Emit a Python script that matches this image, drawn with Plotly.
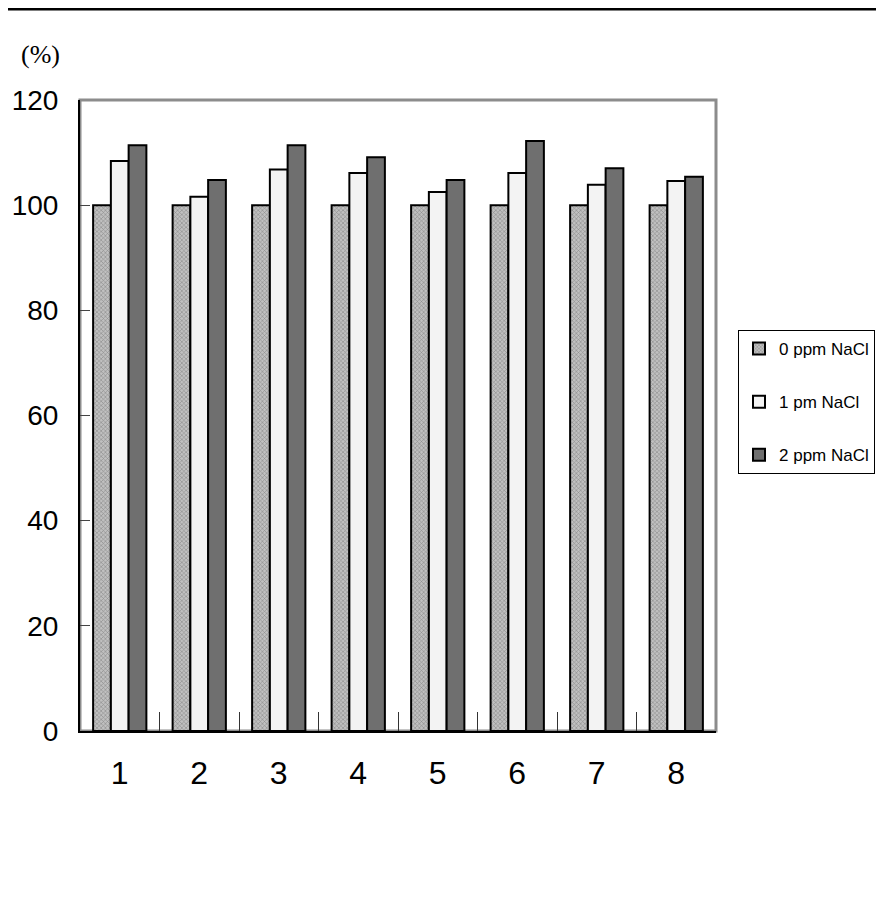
import plotly.graph_objects as go

categories = ["1", "2", "3", "4", "5", "6", "7", "8"]
series_names = ["0 ppm NaCl", "1 pm NaCl", "2 ppm NaCl"]
v0 = [100, 100, 100, 100, 100, 100, 100, 100]
v1 = [108.4, 101.6, 106.8, 106.1, 102.5, 106.1, 103.9, 104.6]
v2 = [111.4, 104.8, 111.4, 109.1, 104.8, 112.2, 107.0, 105.4]
y_ticks = [0, 20, 40, 60, 80, 100, 120]

SANS = "Liberation Sans, Arial, sans-serif"

# page has an 8px body margin; plot area in page pixels: x 80..716, y 100..731
def px(x):
    return (x - 80) / 636

def py(y):
    return (731 - y) / 631

fig = go.Figure()
fig.add_trace(go.Bar(
    x=categories, y=v0, name=series_names[0], legendgroup="a",
    marker=dict(color="#c0c0c0", line=dict(color="black", width=2),
                pattern=dict(shape="x", fgcolor="#505050", bgcolor="#c0c0c0", size=3, solidity=0.35)),
))
fig.add_trace(go.Bar(
    x=categories, y=v1, name=series_names[1], legendgroup="b",
    marker=dict(color="#f3f3f3", line=dict(color="black", width=2)),
))
fig.add_trace(go.Bar(
    x=categories, y=v2, name=series_names[2], legendgroup="c",
    marker=dict(color="#6f6f6f", line=dict(color="black", width=2)),
))

fig.add_shape(type="rect", xref="paper", yref="paper", x0=0, x1=1, y0=0, y1=1,
              line=dict(color="#8c8c8c", width=3), layer="below")
fig.add_shape(type="line", xref="paper", yref="paper", x0=px(0), x1=px(884),
              y0=py(9), y1=py(9), line=dict(color="black", width=3))

fig.add_annotation(text="(%)", xref="paper", yref="paper",
                   x=px(19), y=py(54), xanchor="left", yanchor="middle",
                   showarrow=False, font=dict(family="Liberation Serif, Times New Roman, serif", size=26, color="black"))

fig.update_layout(
    width=876, height=910,
    margin=dict(l=72, r=168, t=92, b=187, autoexpand=False),
    paper_bgcolor="white", plot_bgcolor="white",
    barmode="group", bargap=0.33, bargroupgap=0,
    showlegend=True,
    legend=dict(x=px(738), y=py(330), xanchor="left", yanchor="top",
                bordercolor="black", borderwidth=1, bgcolor="white",
                font=dict(family=SANS, size=17, color="black"),
                tracegroupgap=28, itemwidth=30),
    xaxis=dict(type="category", showline=True, linecolor="black", linewidth=2,
               ticks="inside", ticklen=19, tickcolor="#333333", tickson="boundaries",
               ticklabelstandoff=13, automargin=False,
               tickfont=dict(family=SANS, size=32, color="black"), showgrid=False),
    yaxis=dict(range=[0, 120], tickvals=y_ticks, showline=True, linecolor="black", linewidth=2,
               ticks="inside", ticklen=10, tickcolor="#444444", ticklabelstandoff=14, automargin=False,
               tickfont=dict(family=SANS, size=28, color="black"), showgrid=False, zeroline=False),
)

fig.write_html("out.html")
